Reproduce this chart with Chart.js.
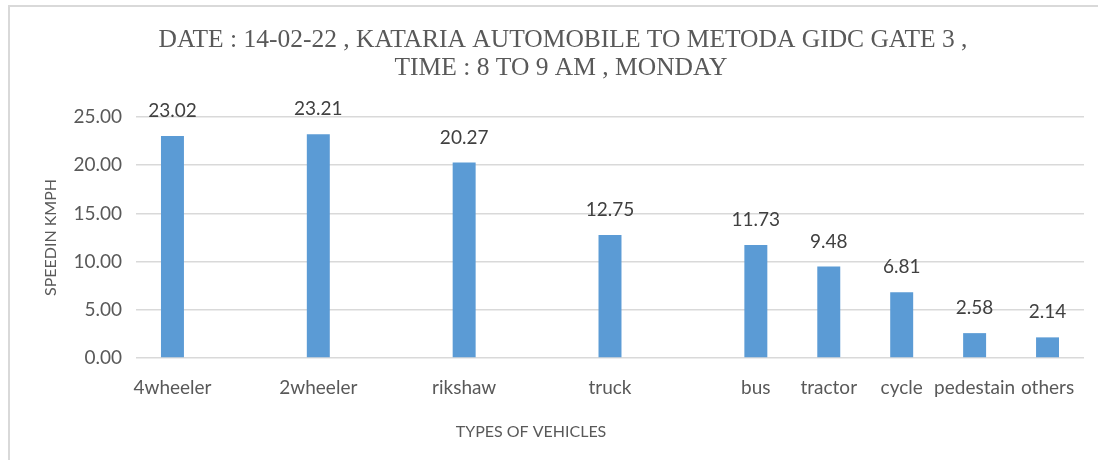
<!DOCTYPE html>
<html lang="en">
<head>
    <meta charset="UTF-8">
    <title>Speed by Vehicle Type</title>
    <script src="https://cdn.jsdelivr.net/npm/chart.js@4.4.0/dist/chart.umd.min.js"></script>
    <style>
        html, body { margin: 0; padding: 0; background: #fff; }
        #wrap { position: relative; width: 1098px; height: 460px; }
    </style>
</head>
<body>
    <div id="wrap">
        <canvas id="speedChart" width="1098" height="460"></canvas>
    </div>

    <script>
        // blank entries keep the wider gaps between the first four vehicles
        const categories = ['4wheeler', '', '2wheeler', '', 'rikshaw', '', 'truck', '', 'bus', 'tractor', 'cycle', 'pedestain', 'others'];
        const speeds = [23.02, null, 23.21, null, 20.27, null, 12.75, null, 11.73, 9.48, 6.81, 2.58, 2.14];
        const yTicks = [0, 5, 10, 15, 20, 25];

        const titleLines = ['DATE : 14-02-22 , KATARIA AUTOMOBILE TO METODA GIDC GATE 3 ,', 'TIME : 8 TO 9 AM , MONDAY'];
        const xTitle = 'TYPES OF VEHICLES';
        const yTitle = 'SPEEDIN KMPH';

        const sansFont = 'Lato, "Open Sans", sans-serif';

        // frame, title, x axis title and value labels
        const extras = {
            id: 'extras',
            beforeDraw(chart) {
                const ctx = chart.ctx;
                ctx.save();
                ctx.fillStyle = '#d9d9d9';
                ctx.fillRect(8, 5, 1090, 2);
                ctx.fillRect(8, 5, 2, 455);
                ctx.restore();
            },
            afterDatasetsDraw(chart) {
                const ctx = chart.ctx;
                const meta = chart.getDatasetMeta(0);
                ctx.save();
                ctx.font = '19px ' + sansFont;
                ctx.fillStyle = '#404040';
                ctx.textAlign = 'center';
                ctx.textBaseline = 'alphabetic';
                meta.data.forEach((bar, i) => {
                    const v = speeds[i];
                    if (v === null) return;
                    ctx.fillText(v.toFixed(2), bar.x, bar.y - 19);
                });
                ctx.restore();
            },
            afterDraw(chart) {
                const ctx = chart.ctx;
                ctx.save();
                ctx.fillStyle = '#595959';
                ctx.textAlign = 'center';
                ctx.textBaseline = 'middle';
                ctx.font = '25.5px "Liberation Serif", "Times New Roman", serif';
                ctx.fillText(titleLines[0], 563, 40);
                ctx.fillText(titleLines[1], 561, 68);
                ctx.font = '16px ' + sansFont;
                ctx.fillText(xTitle, 531, 432);
                ctx.restore();
            }
        };

        const ctx = document.getElementById('speedChart').getContext('2d');
        new Chart(ctx, {
            type: 'bar',
            data: {
                labels: categories,
                datasets: [{
                    label: 'Speed',
                    data: speeds,
                    backgroundColor: '#5b9bd5',
                    barPercentage: 0.9,
                    categoryPercentage: 0.35
                }]
            },
            options: {
                responsive: false,
                animation: false,
                layout: { padding: { top: 117, right: 14, bottom: 0, left: 0 } },
                plugins: {
                    legend: { display: false },
                    tooltip: { enabled: false },
                    title: { display: false }
                },
                scales: {
                    x: {
                        grid: { display: false, drawTicks: false },
                        border: { display: false },
                        ticks: {
                            autoSkip: false,
                            maxRotation: 0,
                            padding: 18,
                            color: '#595959',
                            font: { family: sansFont, size: 19 }
                        },
                        afterFit: scale => { scale.height = 102; }
                    },
                    y: {
                        min: 0,
                        max: 25,
                        afterBuildTicks: scale => { scale.ticks = yTicks.map(v => ({ value: v })); },
                        grid: { color: '#d9d9d9', lineWidth: 1.5, drawTicks: false },
                        border: { display: false },
                        ticks: {
                            padding: 14,
                            color: '#595959',
                            font: { family: sansFont, size: 19 },
                            callback: v => Number(v).toFixed(2)
                        },
                        title: {
                            display: true,
                            text: yTitle,
                            color: '#595959',
                            padding: { top: 41, bottom: 0 },
                            font: { family: sansFont, size: 16 }
                        },
                        afterFit: scale => { scale.width = 136; }
                    }
                }
            },
            plugins: [extras]
        });
    </script>
</body>
</html>
